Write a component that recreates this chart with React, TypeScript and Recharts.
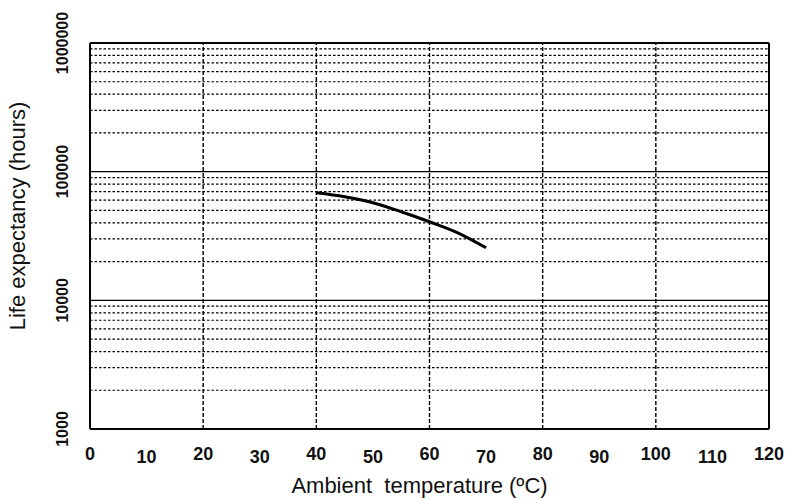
import React from "react";
import { LineChart, Line, XAxis, YAxis, ReferenceLine } from "recharts";

const temps = [40, 45, 50, 55, 60, 65, 70];
const lifeHours = [68500, 63800, 57400, 48800, 40800, 33500, 25600];

const xTicks = [0, 10, 20, 30, 40, 50, 60, 70, 80, 90, 100, 110, 120];
const yTicks = [1000, 10000, 100000, 1000000];
const decadeLines = [10000, 100000];
const minorLines = [1000, 10000, 100000].flatMap((d) => [2, 3, 4, 5, 6, 7, 8, 9].map((m) => m * d));
const verticalLines = [20, 40, 60, 80, 100];

const data = temps.map((t, i) => ({ temp: t, life: lifeHours[i] }));

const XTick = (props: any) => {
    const { x, y, payload } = props;
    // scanned labels sit a little higher on every second tick
    const lift = payload.value % 20 === 0 ? -3 : 0;
    return (
        <text x={x} y={y + 26 + lift} textAnchor="middle" fontFamily="'Liberation Sans', Arial, sans-serif" fontWeight="bold" fontSize={18} fill="#111">
            {payload.value}
        </text>
    );
};

const YTick = (props: any) => {
    const { y, payload } = props;
    return (
        <text x={0} y={0} transform={`translate(68, ${y}) rotate(-90)`} textAnchor="middle" fontFamily="'Liberation Sans', Arial, sans-serif" fontWeight="bold" fontSize={16} fill="#111">
            {payload.value}
        </text>
    );
};

const YLabel = () => (
    <text x={0} y={0} transform="translate(25, 216) rotate(-90)" textAnchor="middle" fontFamily="'Liberation Sans', Arial, sans-serif" fontSize={22} fill="#111">
        Life expectancy (hours)
    </text>
);

const XLabel = (props: any) => {
    const { viewBox } = props;
    return (
        <text x={viewBox.x + viewBox.width / 2 - 10} y={493} textAnchor="middle" fontFamily="'Liberation Sans', Arial, sans-serif" fontSize={22} fill="#111">
            Ambient&#160;&#160;temperature (ºC)
        </text>
    );
};

export default function App() {
    return (
        <div style={{ position: "absolute", left: 0, top: 0, background: "#fff" }}>
            <LineChart width={787} height={500} data={data} margin={{ top: 43, right: 18, bottom: 0, left: 0 }}>
                <XAxis
                    dataKey="temp"
                    type="number"
                    domain={[0, 120]}
                    ticks={xTicks}
                    height={71}
                    tick={<XTick />}
                    tickLine={false}
                    axisLine={{ stroke: "#000", strokeWidth: 2 }}
                    label={<XLabel />}
                />
                <YAxis
                    dataKey="life"
                    scale="log"
                    domain={[1000, 1000000]}
                    ticks={yTicks}
                    width={90}
                    allowDataOverflow
                    tick={<YTick />}
                    tickLine={false}
                    axisLine={{ stroke: "#000", strokeWidth: 2 }}
                    label={<YLabel />}
                />
                {minorLines.map((v) => (
                    <ReferenceLine key={`m${v}`} y={v} stroke="#000" strokeWidth={1.2} strokeDasharray="2.5 2" />
                ))}
                {verticalLines.map((v) => (
                    <ReferenceLine key={`v${v}`} x={v} stroke="#000" strokeWidth={1.4} strokeDasharray="4 2" />
                ))}
                {decadeLines.map((v) => (
                    <ReferenceLine key={`d${v}`} y={v} stroke="#000" strokeWidth={1.4} />
                ))}
                <ReferenceLine y={1000000} stroke="#000" strokeWidth={2} />
                <ReferenceLine x={120} stroke="#000" strokeWidth={2} />
                <Line
                    type="monotone"
                    dataKey="life"
                    stroke="#000"
                    strokeWidth={3}
                    dot={false}
                    isAnimationActive={false}
                />
            </LineChart>
        </div>
    );
}
